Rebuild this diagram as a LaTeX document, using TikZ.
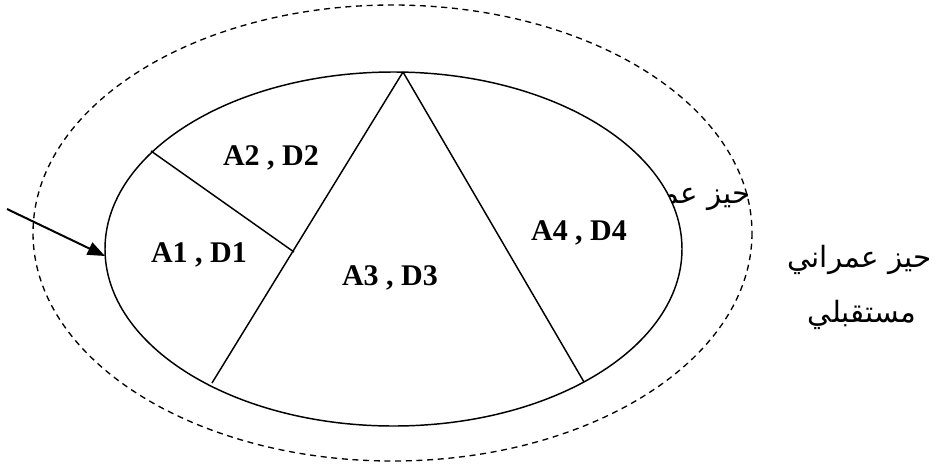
\documentclass[tikz,border=0pt]{standalone}
\usepackage{fontspec}
\setmainfont{Liberation Serif}
\newfontfamily\arabicfont[Script=Arabic]{DejaVu Sans}
\TeXXeTstate=1
\usetikzlibrary{arrows.meta}

\begin{document}
\begin{tikzpicture}[x=0.75pt,y=-0.75pt,line width=1.1pt,
    zone/.style={font=\fontsize{22.5}{26}\selectfont\bfseries,inner sep=0pt,anchor=base},
    arlabel/.style={font=\arabicfont\fontsize{22}{26}\selectfont,inner sep=0pt,anchor=base east}]
      \useasboundingbox (0,0) rectangle (936,465);
      % hidden label behind the city ellipse
      \node[arlabel] (hidden) at (751,203) {\beginR حيز عمراني\endR};
      \draw[dashed,dash pattern=on 4.5pt off 3.5pt,line width=1pt] (392.5,233) ellipse [x radius=359.5,y radius=228];
      \draw[fill=white] (393.5,249) ellipse [x radius=288.5,y radius=177];
      \coordinate (top) at (403,72);
      \coordinate (bl) at (212,383);
      \coordinate (br) at (584,382);
      \coordinate (s1) at (151,151);
      \coordinate (s2) at (294,252);
      \draw (top)--(bl); \draw (top)--(br); \draw (s1)--(s2);
      \node[zone] (z1) at (199,262) {A1 , D1};
      \node[zone] (z2) at (271,165) {A2 , D2};
      \node[zone] (z3) at (390,285) {A3 , D3};
      \node[zone] (z4) at (579,240) {A4 , D4};
      \node[arlabel] (fut1) at (932,267) {\beginR حيز عمراني\endR};
      \node[arlabel,anchor=base] (fut2) at (862,322) {\beginR مستقبلي\endR};
      \coordinate (from) at (7,209);
      \coordinate (to) at (105,256);
      \draw[-{Triangle[length=13pt,width=10pt]},line width=1.5pt] (from)--(to);
    \end{tikzpicture}
\end{document}
